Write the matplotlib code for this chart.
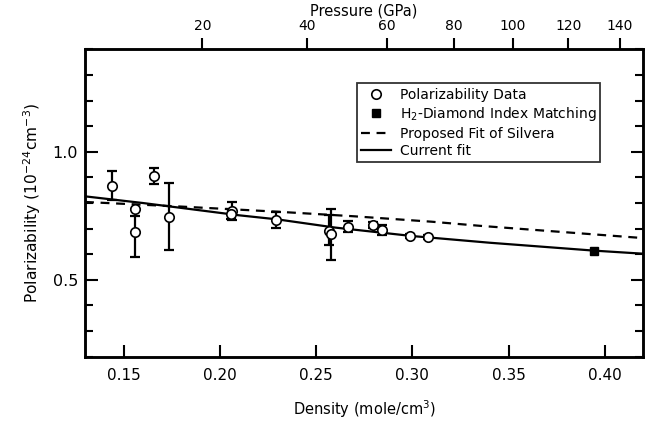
import matplotlib
matplotlib.use('Agg')
import matplotlib.pyplot as plt
from matplotlib.ticker import MultipleLocator

# polarizability data (density in mole/cm^3, polarizability in 1e-24 cm^3)
density = [0.1442, 0.1560, 0.1560, 0.1658, 0.1736, 0.2065, 0.2058, 0.2290,
           0.2565, 0.2580, 0.2664, 0.2797, 0.2844, 0.2988, 0.3080]
polar = [0.868, 0.776, 0.685, 0.906, 0.747, 0.768, 0.756, 0.734,
         0.692, 0.678, 0.708, 0.714, 0.695, 0.672, 0.669]
err_low = [0.055, 0.0, 0.095, 0.030, 0.130, 0.035, 0.020, 0.032,
           0.055, 0.100, 0.023, 0.010, 0.020, 0.008, 0.008]
err_high = [0.055, 0.0, 0.065, 0.030, 0.130, 0.035, 0.020, 0.032,
            0.060, 0.100, 0.023, 0.010, 0.020, 0.008, 0.008]

# H2-diamond index matching point
diamond_density = [0.3945]
diamond_polar = [0.614]

# fits
fit_density = [0.13, 0.16, 0.21, 0.23, 0.26, 0.30, 0.34, 0.3945, 0.42]
fit_current = [0.826, 0.800, 0.752, 0.736, 0.704, 0.671, 0.645, 0.614, 0.602]
silvera_density = [0.13, 0.18, 0.21, 0.23, 0.27, 0.31, 0.335, 0.42]
silvera_fit = [0.804, 0.786, 0.774, 0.766, 0.748, 0.727, 0.711, 0.663]

# top axis: pressure tick labels and where they sit in density
pressure_labels = ['20', '40', '60', '80', '100', '120', '140']
pressure_density = [0.1909, 0.2451, 0.2867, 0.3218, 0.3521, 0.3810, 0.4078]

plt.rcParams['font.family'] = 'DejaVu Sans'
plt.rcParams['font.size'] = 10

fig = plt.figure(figsize=(6.54, 4.28), dpi=100)
ax = fig.add_axes([0.130, 0.1666, 0.8537, 0.7182])

ax.plot(silvera_density, silvera_fit, color='black', linestyle=(0, (4, 3)),
        linewidth=1.6, label='Proposed Fit of Silvera', zorder=2)
ax.plot(fit_density, fit_current, color='black', linewidth=1.6,
        label='Current fit', zorder=2)
ax.errorbar(density, polar, yerr=[err_low, err_high], fmt='none',
            ecolor='black', elinewidth=1.6, capsize=3.5, capthick=1.6, zorder=3)
ax.plot(density, polar, linestyle='none', marker='o', markersize=6.8,
        markerfacecolor='white', markeredgecolor='black', markeredgewidth=1.2,
        label='Polarizability Data', zorder=4)
ax.plot(diamond_density, diamond_polar, linestyle='none', marker='s',
        markersize=6.2, color='black', label='H$_2$-Diamond Index Matching',
        zorder=4)

ax.set_xlim(0.13, 0.42)
ax.set_ylim(0.2, 1.4)
ax.set_xticks([0.15, 0.20, 0.25, 0.30, 0.35, 0.40])
ax.set_xticklabels(['0.15', '0.20', '0.25', '0.30', '0.35', '0.40'])
ax.set_yticks([0.5, 1.0])
ax.set_yticklabels(['0.5', '1.0'])
ax.yaxis.set_minor_locator(MultipleLocator(0.1))
ax.tick_params(axis='x', which='both', direction='in', length=9, width=1.5,
               top=False, pad=8, labelsize=11)
ax.tick_params(axis='y', which='major', direction='in', length=9, width=1.5,
               right=True, pad=5, labelsize=11.5)
ax.tick_params(axis='y', which='minor', direction='in', length=6, width=1.5,
               right=True)
for s in ax.spines.values():
    s.set_linewidth(1.8)

ax.set_xlabel('Density (mole/cm$^3$)', labelpad=11, fontsize=10.5)
ax.set_ylabel('Polarizability (10$^{-24}$cm$^{-3}$)', labelpad=7,
              fontsize=11.2)

ax2 = ax.twiny()
ax2.set_xlim(ax.get_xlim())
ax2.set_xticks(pressure_density)
ax2.set_xticklabels(pressure_labels)
ax2.tick_params(axis='x', direction='out', length=8, width=1.5, pad=4)
ax2.set_xlabel('Pressure (GPa)', labelpad=2, fontsize=10.5)
for s in ax2.spines.values():
    s.set_linewidth(1.8)

handles, labels = ax.get_legend_handles_labels()
order = [2, 3, 0, 1]
leg = ax.legend([handles[i] for i in order], [labels[i] for i in order],
                loc='upper left', bbox_to_anchor=(0.4863, 0.889),
                frameon=True, fancybox=False, edgecolor='black',
                handlelength=2.2, handletextpad=0.6, borderpad=0.3,
                labelspacing=0.25, borderaxespad=0)
leg.get_frame().set_linewidth(1.3)

fig.savefig('out.png', dpi=100)
